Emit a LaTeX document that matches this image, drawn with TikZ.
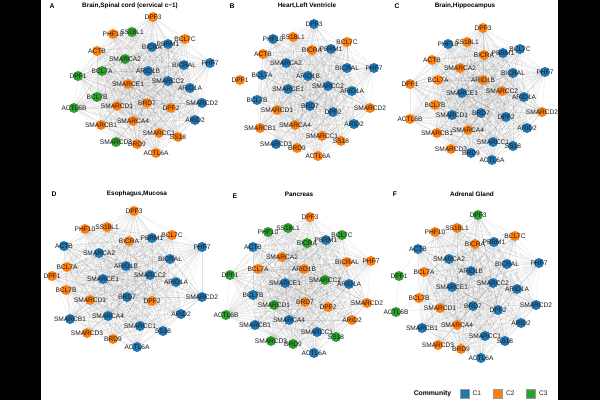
\documentclass[tikz,border=0pt]{standalone}
\usepackage{fontspec}
\setmainfont{Liberation Sans}
\definecolor{cB}{HTML}{1F77B4}
\definecolor{cO}{HTML}{FF7F0E}
\definecolor{cG}{HTML}{2CA02C}
\pgfdeclarelayer{bot}
\pgfdeclarelayer{bg}
\pgfdeclarelayer{fg}
\pgfsetlayers{bot,bg,main,fg}
\tikzset{
  dot/.style={circle, inner sep=0pt, minimum size=10pt, draw=none},
  lbl/.style={inner sep=0pt, font=\fontsize{6.6}{7}\selectfont, text=black!90},
  edge/.style={draw=black!55, opacity=0.2, line width=0.3pt},
  ttl/.style={inner sep=0pt, font=\bfseries\fontsize{6.4}{7}\selectfont},
  plab/.style={inner sep=0pt, font=\bfseries\fontsize{6.8}{7}\selectfont},
  legsq/.style={minimum size=9pt, inner sep=0pt, draw=white!60!black, line width=0.2pt}
}
\newcommand\placenodes[2]{%
  \foreach \n/\x/\y/\c in {#2} {
    \node[dot, fill=c\c] (#1-\n) at (\x,\y) {};
    \begin{pgfonlayer}{fg}\node[lbl] (#1-\n-t) at (\x,\y) {\n};\end{pgfonlayer}
  }%
}
\newcommand\allpairs[2]{%
  \begin{pgfonlayer}{bg}
  \foreach \a [count=\i] in #2 {
    \foreach \b [count=\j] in #2 {
      \ifnum\j>\i \draw[edge] (#1-\a.center) -- (#1-\b.center); \fi
    }
  }
  \end{pgfonlayer}%
}
\def\fulllist{DPF3,PHF10,SS18L1,BCL7C,ACTB,BICRA,PBRM1,SMARCA2,BICRAL,PHF7,DPF1,BCL7A,ARID1B,SMARCE1,SMARCC2,ARID1A,BCL7B,ACTL6B,SMARCD1,BRD7,DPF2,SMARCD2,SMARCB1,SMARCA4,ARID2,SMARCD3,SMARCC1,SS18,BRD9,ACTL6A}
\def\bothless{DPF3,PHF10,SS18L1,BCL7C,ACTB,BICRA,PBRM1,SMARCA2,BICRAL,PHF7,BCL7A,ARID1B,SMARCE1,SMARCC2,ARID1A,BCL7B,SMARCD1,BRD7,DPF2,SMARCD2,SMARCB1,SMARCA4,ARID2,SMARCD3,SMARCC1,SS18,BRD9,ACTL6A}
\def\dlist{DPF3,PHF10,SS18L1,BCL7C,ACTB,BICRA,PBRM1,SMARCA2,BICRAL,PHF7,DPF1,BCL7A,ARID1B,SMARCE1,SMARCC2,ARID1A,BCL7B,SMARCD1,BRD7,DPF2,SMARCD2,SMARCB1,SMARCA4,ARID2,SMARCD3,SMARCC1,SS18,BRD9,ACTL6A}
\begin{document}
\begin{tikzpicture}[x=1pt,y=-1pt]
\useasboundingbox (0,0) rectangle (600,400);
\begin{pgfonlayer}{bot}
\fill[white] (0,0) rectangle (600,400);
\end{pgfonlayer}

% ---------- Panel A
\node[plab] (labA) at (52,6) {A};
\node[ttl] (ttlA) at (130,6) {Brain,Spinal cord (cervical c−1)};
\placenodes{A}{DPF3/153/17/O, PHF10/113/34/O, SS18L1/132/32/G, BCL7C/185/39/O, ACTB/97/51/O, BICRA/152/47/B, PBRM1/168/44/B, SMARCA2/125/59/G, BICRAL/184/65/B, PHF7/210/63/B, DPF1/78/76/G, BCL7A/102/71/G, ARID1B/148/71/B, SMARCE1/128/84/O, SMARCC2/168/81/B, ARID1A/190/88/B, BCL7B/97/97/G, ACTL6B/74/108/G, SMARCD1/117/106/O, BRD7/147/103/O, DPF2/171/108/O, SMARCD2/202/103/B, SMARCB1/101/125/O, SMARCA4/133/121/O, ARID2/195/120/B, SMARCD3/116/142/G, SMARCC1/159/133/O, SS18/178/137/O, BRD9/137/144/O, ACTL6A/156/153/O}
\allpairs{A}{\fulllist}

% ---------- Panel B
\node[plab] (labB) at (232,6) {B};
\node[ttl] (ttlB) at (307,6) {Heart,Left Ventricle};
\placenodes{B}{DPF3/314/24/B, PHF10/273/39/B, SS18L1/293/37/O, BCL7C/347/42/O, ACTB/263/54/O, BICRA/312/50/O, PBRM1/331/49/B, SMARCA2/286/63/B, BICRAL/347/68/B, PHF7/374/68/B, DPF1/240/80/O, BCL7A/262/75/B, ARID1B/308/76/B, SMARCE1/288/89/B, SMARCC2/328/86/B, ARID1A/352/91/B, BCL7B/257/100/B, SMARCD1/277/110/O, BRD7/310/106/B, DPF2/333/112/B, SMARCD2/370/108/O, SMARCB1/260/128/O, SMARCA4/295/125/O, ARID2/354/124/B, SMARCD3/276/144/B, SMARCC1/322/136/O, SS18/341/141/O, BRD9/297/148/O, ACTL6A/318/156/O}
\allpairs{B}{\bothless}

% ---------- Panel C
\node[plab] (labC) at (397,6) {C};
\node[ttl] (ttlC) at (465,6) {Brain,Hippocampus};
\placenodes{C}{DPF3/483/28/O, PHF10/448/44/B, SS18L1/467/42/O, BCL7C/520/49/B, ACTB/432/60/O, BICRA/484/55/O, PBRM1/503/53/B, SMARCA2/460/68/O, BICRAL/513/73/B, PHF7/545/72/B, DPF1/410/84/O, BCL7A/438/80/O, ARID1B/483/80/O, SMARCE1/462/93/B, SMARCC2/502/91/O, ARID1A/524/97/B, BCL7B/435/105/O, ACTL6B/410/119/O, SMARCD1/452/115/B, BRD7/481/113/B, DPF2/506/117/B, SMARCD2/542/112/O, SMARCB1/437/133/O, SMARCA4/468/130/O, ARID2/527/128/B, SMARCD3/451/149/O, SMARCC1/493/142/B, SS18/513/146/B, BRD9/471/153/B, ACTL6A/492/160/B}
\allpairs{C}{\fulllist}

% ---------- Panel D
\node[plab] (labD) at (54,194) {D};
\node[ttl] (ttlD) at (137,194) {Esophagus,Mucosa};
\placenodes{D}{DPF3/134/211/O, PHF10/85/229/O, SS18L1/107/227/O, BCL7C/172/235/O, ACTB/64/246/B, BICRA/129/241/O, PBRM1/152/238/B, SMARCA2/99/253/B, BICRAL/170/259/B, PHF7/202/247/B, DPF1/52/276/O, BCL7A/67/267/O, ARID1B/126/266/B, SMARCE1/103/279/B, SMARCC2/150/275/B, ARID1A/176/282/B, BCL7B/66/290/O, SMARCD1/90/300/O, BRD7/127/297/B, DPF2/152/301/O, SMARCD2/202/297/B, SMARCB1/70/319/B, SMARCA4/108/316/B, ARID2/181/314/B, SMARCD3/87/333/O, SMARCC1/140/326/B, SS18/163/331/B, BRD9/113/339/O, ACTL6A/137/347/B}
\allpairs{D}{\dlist}

% ---------- Panel E
\node[plab] (labE) at (235,196) {E};
\node[ttl] (ttlE) at (299,194) {Pancreas};
\placenodes{E}{DPF3/310/217/O, PHF10/268/232/G, SS18L1/288/228/G, BCL7C/342/235/G, ACTB/253/247/B, BICRA/307/243/G, PBRM1/326/240/B, SMARCA2/282/257/O, BICRAL/347/262/O, PHF7/371/261/O, DPF1/230/275/G, BCL7A/258/269/O, ARID1B/304/269/O, SMARCE1/285/283/B, SMARCC2/325/280/G, ARID1A/349/284/B, BCL7B/253/295/B, ACTL6B/226/315/G, SMARCD1/274/305/G, BRD7/305/302/O, DPF2/328/307/O, SMARCD2/367/303/O, SMARCB1/255/325/B, SMARCA4/289/320/B, ARID2/352/320/O, SMARCD3/271/341/G, SMARCC1/317/332/B, SS18/336/337/G, BRD9/293/344/G, ACTL6A/314/353/B}
\allpairs{E}{\fulllist}

% ---------- Panel F
\node[plab] (labF) at (395,194) {F};
\node[ttl] (ttlF) at (472,194) {Adrenal Gland};
\placenodes{F}{DPF3/478/215/G, PHF10/435/232/O, SS18L1/457/228/O, BCL7C/515/236/O, ACTB/418/249/B, BICRA/475/244/O, PBRM1/494/242/B, SMARCA2/449/259/B, BICRAL/507/264/B, PHF7/539/263/B, DPF1/399/276/G, BCL7A/424/272/O, ARID1B/471/271/B, SMARCE1/452/287/B, SMARCC2/493/283/B, ARID1A/517/289/B, BCL7B/419/298/O, ACTL6B/396/312/G, SMARCD1/440/308/O, BRD7/473/306/B, DPF2/498/310/B, SMARCD2/536/305/B, SMARCB1/422/328/B, SMARCA4/457/325/O, ARID2/521/323/B, SMARCD3/438/345/O, SMARCC1/485/336/B, SS18/505/341/B, BRD9/461/349/O, ACTL6A/481/358/B}
\allpairs{F}{\bothless}
\begin{pgfonlayer}{bg}
\draw[edge] (F-DPF1.center) -- (F-ACTB.center);
\draw[edge] (F-DPF1.center) -- (F-BCL7A.center);
\draw[edge] (F-DPF1.center) -- (F-ACTL6B.center);
\draw[edge] (F-ACTL6B.center) -- (F-BCL7B.center);
\draw[edge] (F-ACTL6B.center) -- (F-SMARCD1.center);
\draw[edge] (F-ACTL6B.center) -- (F-SMARCB1.center);
\draw[edge] (F-ACTL6B.center) -- (F-SMARCE1.center);
\end{pgfonlayer}

% ---------- Legend
\node[plab] (legT) at (432.5,393.3) {Community};
\node[legsq, fill=cB] (sq1) at (464.5,393.3) {};
\node[lbl, anchor=west] (lt1) at (472.5,393.3) {C1};
\node[legsq, fill=cO] (sq2) at (497.5,393.3) {};
\node[lbl, anchor=west] (lt2) at (505.8,393.3) {C2};
\node[legsq, fill=cG] (sq3) at (531,393.3) {};
\node[lbl, anchor=west] (lt3) at (539,393.3) {C3};

% ---------- black side bars
\begin{pgfonlayer}{fg}
\fill[black] (0,0) rectangle (41,400);
\fill[black] (558,0) rectangle (600,400);
\end{pgfonlayer}
\end{tikzpicture}
\end{document}
